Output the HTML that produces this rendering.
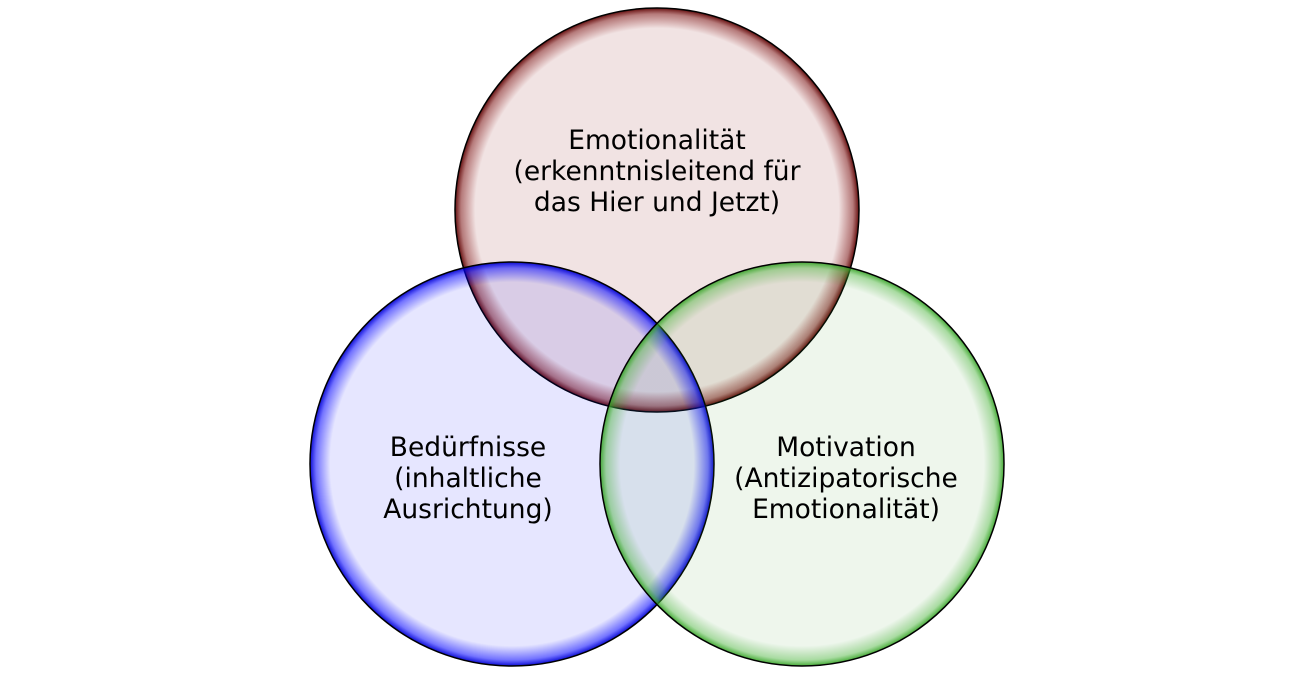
<!DOCTYPE html>
<html><head><style>body{margin:0;background:#fff}svg{display:block}</style></head><body>
<svg width="1314" height="674" viewBox="0 0 1314 674" xmlns="http://www.w3.org/2000/svg">
<defs>
<radialGradient id="r"><stop offset="0.9" stop-color="#800000" stop-opacity="0.11"/><stop offset="0.97" stop-color="#7a1010" stop-opacity="0.55"/><stop offset="1" stop-color="#5a0000" stop-opacity="0.95"/></radialGradient>
<radialGradient id="b"><stop offset="0.9" stop-color="#0000ff" stop-opacity="0.1"/><stop offset="0.97" stop-color="#0000ff" stop-opacity="0.55"/><stop offset="1" stop-color="#0000cc" stop-opacity="0.95"/></radialGradient>
<radialGradient id="g"><stop offset="0.9" stop-color="#40a030" stop-opacity="0.09"/><stop offset="0.97" stop-color="#40b030" stop-opacity="0.45"/><stop offset="1" stop-color="#30a020" stop-opacity="0.9"/></radialGradient>
</defs>
<circle cx="657" cy="210" r="202" fill="url(#r)" stroke="#000" stroke-width="1.5"/>
<circle cx="512" cy="464" r="202" fill="url(#b)" stroke="#000" stroke-width="1.5"/>
<circle cx="802" cy="464" r="202" fill="url(#g)" stroke="#000" stroke-width="1.5"/>
<g font-family="DejaVu Sans, sans-serif" font-size="26.5" fill="#000" text-anchor="middle">
<text x="657" y="149">Emotionalität</text>
<text x="657" y="180">(erkenntnisleitend für</text>
<text x="657" y="211">das Hier und Jetzt)</text>
<text x="468" y="456">Bedürfnisse</text>
<text x="468" y="487">(inhaltliche</text>
<text x="468" y="518">Ausrichtung)</text>
<text x="846" y="456">Motivation</text>
<text x="846" y="487">(Antizipatorische</text>
<text x="846" y="518">Emotionalität)</text>
</g>
</svg>
</body></html>
